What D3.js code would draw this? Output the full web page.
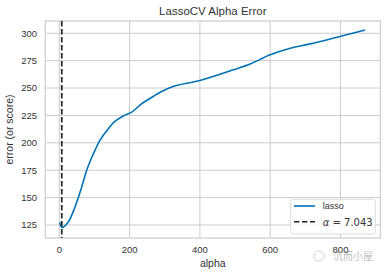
<!DOCTYPE html>
<html>
<head>
<meta charset="utf-8">
<script src="https://cdn.jsdelivr.net/npm/d3@7"></script>
<style>
  body { margin: 0; background: #fff; }
  text { font-family: "Liberation Sans", Arial, sans-serif; fill: #333; }
</style>
</head>
<body>
<div id="chart"></div>
<script>
// values
var alphas = [1, 8, 26, 45, 64, 78, 97, 116, 135, 158, 182, 206, 234, 267, 286, 324, 400, 495, 543, 600, 657, 714, 803, 870];
var errors = [127.5, 122.8, 128, 141.7, 159.8, 175, 190, 202.5, 211, 219.5, 224.5, 228, 235.6, 242.3, 246, 251.5, 256.9, 266.6, 272, 280.3, 286.3, 290.3, 297.5, 303];
var bestAlpha = 7.043;
var xTicks = [0, 200, 400, 600, 800];
var yTicks = [125, 150, 175, 200, 225, 250, 275, 300];

var W = 386, H = 275;
// plot box (note: "top" is reserved on window, so use pTop etc)
var pLeft = 45.3, pRight = 380.3, pTop = 21, pBottom = 238;

var svg = d3.select("#chart").append("svg")
    .attr("width", W)
    .attr("height", H);

var x = d3.scaleLinear().domain([-39.8, 913.2]).range([pLeft, pRight]);
var y = d3.scaleLinear().domain([113.1, 311.2]).range([pBottom, pTop]);

// grid
var grid = svg.append("g");
grid.selectAll("line.vx").data(xTicks).enter().append("line")
    .attr("x1", d => x(d)).attr("x2", d => x(d))
    .attr("y1", pTop).attr("y2", pBottom)
    .style("stroke", "#cccccc").style("stroke-width", 1);
grid.selectAll("line.hy").data(yTicks).enter().append("line")
    .attr("x1", pLeft).attr("x2", pRight)
    .attr("y1", d => y(d)).attr("y2", d => y(d))
    .style("stroke", "#cccccc").style("stroke-width", 1);

svg.append("rect")
    .attr("x", pLeft).attr("y", pTop)
    .attr("width", pRight - pLeft).attr("height", pBottom - pTop)
    .style("fill", "none").style("stroke", "#cccccc").style("stroke-width", 1.2);

// tick labels
svg.selectAll("text.xt").data(xTicks).enter().append("text")
    .attr("x", d => x(d)).attr("y", 252.5)
    .attr("text-anchor", "middle")
    .style("font-size", "9.5px")
    .text(d => d);
svg.selectAll("text.yt").data(yTicks).enter().append("text")
    .attr("x", 37).attr("y", d => y(d) + 3.4)
    .attr("text-anchor", "end")
    .style("font-size", "9.5px")
    .text(d => d);

// curve
var line = d3.line()
    .x((d, i) => x(alphas[i]))
    .y(d => y(d))
    .curve(d3.curveCatmullRom.alpha(0.5));

svg.append("path")
    .datum(errors)
    .attr("d", line)
    .style("fill", "none")
    .style("stroke", "#0072B2")
    .style("stroke-width", 1.6);

svg.append("line")
    .attr("x1", x(bestAlpha)).attr("x2", x(bestAlpha))
    .attr("y1", pTop).attr("y2", pBottom)
    .style("stroke", "#222")
    .style("stroke-width", 1.7)
    .style("stroke-dasharray", "5.5,2.5");

// title and labels
svg.append("text")
    .attr("x", (pLeft + pRight) / 2).attr("y", 15)
    .attr("text-anchor", "middle")
    .style("font-size", "11.5px")
    .text("LassoCV Alpha Error");
svg.append("text")
    .attr("x", (pLeft + pRight) / 2).attr("y", 267)
    .attr("text-anchor", "middle")
    .style("font-size", "10.5px")
    .text("alpha");
svg.append("text")
    .attr("transform", "translate(13," + ((pTop + pBottom) / 2) + ") rotate(-90)")
    .attr("text-anchor", "middle")
    .style("font-size", "10.5px")
    .text("error (or score)");

// legend
var lg = svg.append("g");
lg.append("rect")
    .attr("x", 290.7).attr("y", 199.3)
    .attr("width", 84.6).attr("height", 34.7)
    .attr("rx", 2.5)
    .style("fill", "rgba(255,255,255,0.8)")
    .style("stroke", "#dddddd");
lg.append("line")
    .attr("x1", 294).attr("x2", 315).attr("y1", 206).attr("y2", 206)
    .style("stroke", "#0072B2").style("stroke-width", 1.6);
lg.append("text")
    .attr("x", 322.7).attr("y", 209)
    .style("font-size", "9px")
    .text("lasso");
lg.append("line")
    .attr("x1", 294).attr("x2", 315).attr("y1", 221.7).attr("y2", 221.7)
    .style("stroke", "#222").style("stroke-width", 1.6)
    .style("stroke-dasharray", "5.5,2.5");
var lt = lg.append("text")
    .attr("x", 322.7).attr("y", 225.5)
    .style("font-family", "DejaVu Sans")
    .style("font-size", "10px");
lt.append("tspan").style("font-style", "italic").text("α");
lt.append("tspan").text(" = 7.043");

// watermark
var wm = svg.append("g").style("opacity", 0.55);
wm.append("circle").attr("cx", 319).attr("cy", 256).attr("r", 5)
    .style("fill", "none").style("stroke", "#999").style("stroke-width", 0.8);
wm.append("text")
    .attr("x", 333).attr("y", 260)
    .style("font-family", "Noto Sans CJK SC")
    .style("font-size", "10px")
    .style("fill", "#888")
    .text("沉而小屋");
</script>
</body>
</html>
